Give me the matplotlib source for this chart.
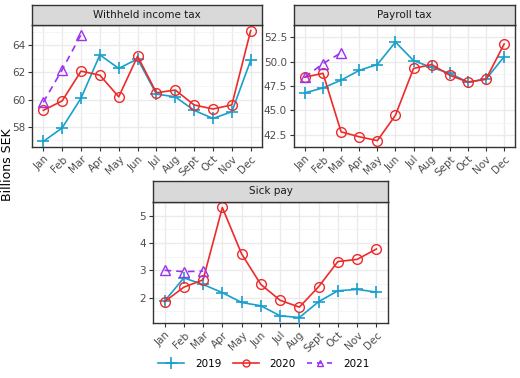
import matplotlib.pyplot as plt
from matplotlib.lines import Line2D

months = ['Jan', 'Feb', 'Mar', 'Apr', 'May', 'Jun', 'Jul', 'Aug', 'Sept', 'Oct', 'Nov', 'Dec']

income_2019 = [56.9, 57.9, 60.1, 63.3, 62.3, 63.0, 60.4, 60.2, 59.2, 58.6, 59.1, 62.9]
income_2020 = [59.2, 59.9, 62.1, 61.8, 60.2, 63.2, 60.5, 60.7, 59.6, 59.3, 59.6, 65.1]
income_2021 = [59.8, 62.2, 64.8]

payroll_2019 = [46.8, 47.3, 48.1, 49.1, 49.7, 52.0, 50.1, 49.4, 48.8, 47.9, 48.2, 50.5]
payroll_2020 = [48.4, 48.8, 42.8, 42.3, 41.9, 44.5, 49.3, 49.7, 48.6, 47.9, 48.2, 51.8]
payroll_2021 = [48.4, 49.8, 50.9]

sick_2019 = [1.87, 2.72, 2.48, 2.18, 1.82, 1.70, 1.33, 1.27, 1.85, 2.25, 2.30, 2.20]
sick_2020 = [1.85, 2.38, 2.65, 5.30, 3.60, 2.48, 1.90, 1.65, 2.40, 3.32, 3.40, 3.78]
sick_2021 = [3.00, 2.95, 2.97]

c19 = '#1a9fcc'
c20 = '#ee2a2a'
c21 = '#9a33f0'

W, H = 520, 378
fig = plt.figure(figsize=(W / 100, H / 100), dpi=100)


def px(x0, y0, x1, y1):
    return [x0 / W, 1 - y1 / H, (x1 - x0) / W, (y1 - y0) / H]


def panel(x0, x1, y_strip, y_top, y_bot, title, s19, s20, s21, yticks, fmt):
    ax = fig.add_axes(px(x0, y_top, x1, y_bot))
    x = range(len(months))
    ax.plot(x, s19, color=c19, marker='+', ms=9, mew=1.2, lw=1.2, zorder=3)
    ax.plot(x, s20, color=c20, marker='o', ms=7, mfc='none', mew=1, lw=1.2, zorder=3)
    ax.plot(range(len(s21)), s21, color=c21, marker='^', ms=7, mfc='none', mew=1,
            lw=1.2, ls=(0, (4, 3)), zorder=3)
    lo = min(s19 + s20 + s21)
    hi = max(s19 + s20 + s21)
    pad = (hi - lo) * 0.05
    ax.set_ylim(lo - pad, hi + pad)
    ax.set_xlim(-0.6, 11.6)
    ax.set_xticks(list(x))
    ax.set_xticklabels(months, rotation=45, ha='right', rotation_mode='anchor')
    ax.set_yticks(yticks)
    ax.set_yticklabels([fmt.format(v) for v in yticks])
    step = yticks[1] - yticks[0]
    ax.set_yticks([v + step / 2 for v in [yticks[0] - step] + yticks], minor=True)
    ax.grid(True, which='major', color='#ebebeb', lw=1.0)
    ax.grid(True, which='minor', axis='y', color='#f4f4f4', lw=0.6)
    ax.set_axisbelow(True)
    ax.tick_params(which='minor', length=0)
    ax.tick_params(which='major', labelsize=7.5, labelcolor='#4d4d4d', length=3,
                   color='#333333', width=0.8, pad=2)
    for s in ax.spines.values():
        s.set_color('#333333')
        s.set_linewidth(1.0)
    st = fig.add_axes(px(x0, y_strip, x1, y_top))
    st.set_facecolor('#d9d9d9')
    st.set_xticks([])
    st.set_yticks([])
    for s in st.spines.values():
        s.set_color('#333333')
        s.set_linewidth(1.0)
    st.text(0.5, 0.5, title, ha='center', va='center', fontsize=7.5, color='#1a1a1a')
    return ax


panel(32, 262, 5, 25, 147, 'Withheld income tax', income_2019, income_2020, income_2021,
      [58, 60, 62, 64], '{:.0f}')
panel(294, 515, 5, 25, 147, 'Payroll tax', payroll_2019, payroll_2020, payroll_2021,
      [42.5, 45.0, 47.5, 50.0, 52.5], '{:.1f}')
panel(153, 388, 181, 202, 323, 'Sick pay', sick_2019, sick_2020, sick_2021,
      [2, 3, 4, 5], '{:.0f}')

fig.text(8 / W, 1 - 165 / H, 'Billions SEK', rotation=90, ha='center', va='center',
         fontsize=9, color='black')

handles = [
    Line2D([], [], color=c19, marker='+', ms=9, mew=1.2, lw=1.2),
    Line2D([], [], color=c20, marker='o', ms=5, mfc='none', mew=1, lw=1.2),
    Line2D([], [], color=c21, marker='^', ms=5, mfc='none', mew=1, lw=1.2, ls=(0, (3, 3))),
]
fig.legend(handles, ['2019', '2020', '2021'], loc='center', bbox_to_anchor=(264 / W, 1 - 364 / H),
           ncol=3, frameon=False, fontsize=7.5, handlelength=2.5, columnspacing=1.1,
           handletextpad=1.0)

fig.savefig('out.png', dpi=100)
